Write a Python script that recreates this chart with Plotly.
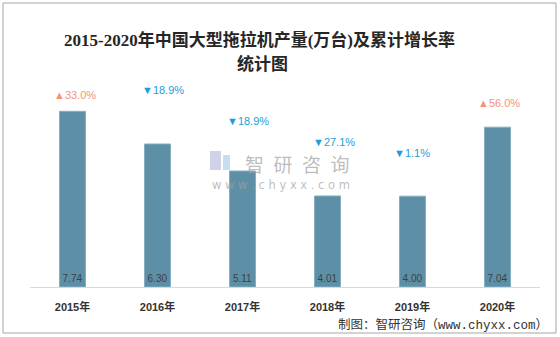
import plotly.graph_objects as go

years = ["2015年", "2016年", "2017年", "2018年", "2019年", "2020年"]
output = [7.74, 6.30, 5.11, 4.01, 4.00, 7.04]
growth = [33.0, -18.9, -18.9, -27.1, -1.1, 56.0]
growth_label_y = [8.46, 8.68, 7.31, 6.40, 5.90, 8.11]
growth_label_dx = [2, 5, 5, 6, -1, 1]

W, H = 560, 337
ML, MR, MT, MB = 30, 20, 60, 50
PW, PH = W - ML - MR, H - MT - MB


def px(x):
    return (x - ML) / PW


def py(y):
    return (H - MB - y) / PH


fig = go.Figure()
fig.add_trace(go.Bar(
    x=years, y=output,
    marker=dict(color="#5D90A7", line=dict(color="#86AFC2", width=1)),
    text=[f"{v:.2f}" for v in output],
    textposition="inside", insidetextanchor="start",
    textfont=dict(family="Liberation Sans, Noto Sans", size=10, color="#3F3F3F"),
    hoverinfo="skip",
))

annotations = []
for yr, g, ly, dx in zip(years, growth, growth_label_y, growth_label_dx):
    up = g >= 0
    annotations.append(dict(
        x=yr, y=ly, xref="x", yref="y", xshift=dx, borderpad=0,
        text=("▲" if up else "▼") + f"{abs(g):.1f}%",
        showarrow=False,
        font=dict(family="Liberation Sans, Noto Sans", size=11,
                  color="#F4937A" if up else "#1C9EDC"),
    ))

title_font = dict(family="Liberation Serif, Noto Sans CJK SC", size=17, color="#262626", weight="bold")
annotations.append(dict(x=px(259), y=py(28), xref="paper", yref="paper",
                        text="2015-2020年中国大型拖拉机产量(万台)及累计增长率",
                        showarrow=False, font=title_font))
annotations.append(dict(x=px(262), y=py(52), xref="paper", yref="paper",
                        text="统计图", showarrow=False, font=title_font))

# watermark
annotations.append(dict(x=px(297), y=py(163), xref="paper", yref="paper", borderpad=0,
                        text="智\u2002研\u2002咨\u2002询", showarrow=False,
                        font=dict(family="Noto Sans CJK SC", size=19, color="rgba(160,160,160,0.7)")))
annotations.append(dict(x=px(281), y=py(185), xref="paper", yref="paper", borderpad=0,
                        text="w w w . c h y x x . c o m", showarrow=False,
                        font=dict(family="DejaVu Sans", size=11.5, color="rgba(160,160,160,0.7)")))
# source
annotations.append(dict(x=px(550), y=py(325), xref="paper", yref="paper",
                        xanchor="right", yanchor="middle",
                        text="制图：智研咨询（www.chyxx.com）", showarrow=False,
                        font=dict(family="Liberation Mono, Noto Sans CJK SC", size=12.5, color="#333333")))

shapes = [
    dict(type="rect", xref="paper", yref="paper",
         x0=px(3), x1=px(556), y0=py(333), y1=py(3),
         line=dict(color="#A6A6A6", width=1), layer="below"),
    # logo approximation
    dict(type="rect", xref="paper", yref="paper",
         x0=px(210), x1=px(221), y0=py(170), y1=py(151),
         line=dict(width=0), fillcolor="rgba(195,200,225,0.8)", layer="below"),
    dict(type="rect", xref="paper", yref="paper",
         x0=px(223), x1=px(230), y0=py(170), y1=py(155),
         line=dict(width=0), fillcolor="rgba(180,215,238,0.8)", layer="below"),
]

fig.update_layout(
    width=W, height=H,
    margin=dict(l=ML, r=MR, t=MT, b=MB),
    paper_bgcolor="white", plot_bgcolor="white",
    bargap=0.694,
    showlegend=False,
    xaxis=dict(showline=True, linecolor="#D9D9D9", linewidth=1, showgrid=False,
               ticks="", ticklabelstandoff=10,
               tickfont=dict(family="Liberation Sans, Noto Sans CJK SC", size=11, color="#333333", weight="bold")),
    yaxis=dict(range=[0, 10], visible=False, showgrid=False),
    annotations=annotations,
    shapes=shapes,
)

fig.write_html("out.html")
